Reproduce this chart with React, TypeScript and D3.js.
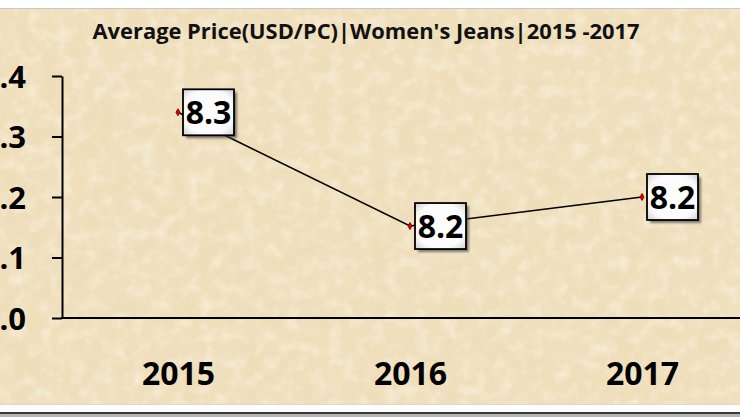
import React, { useEffect, useRef } from "react";
import * as d3 from "d3";

const categories = ["2015", "2016", "2017"];
const values = [8.34, 8.152, 8.2];
const yTicks = [8.0, 8.1, 8.2, 8.3, 8.4];
const title = "Average Price(USD/PC)|Women's Jeans|2015 -2017";

const W = 740;
const H = 417;
const FONT = "'Open Sans', 'Noto Sans', sans-serif";

export default function App() {
  const ref = useRef<SVGSVGElement | null>(null);

  useEffect(() => {
    document.body.style.margin = "0";
    const svg = d3.select(ref.current);
    svg.selectAll("*").remove();

    const defs = svg.append("defs");
    const paper = defs
      .append("filter")
      .attr("id", "paper")
      .attr("x", 0)
      .attr("y", 0)
      .attr("width", "100%")
      .attr("height", "100%");
    paper
      .append("feTurbulence")
      .attr("type", "fractalNoise")
      .attr("baseFrequency", "0.025 0.04")
      .attr("numOctaves", 4)
      .attr("seed", 7)
      .attr("result", "noise");
    paper
      .append("feColorMatrix")
      .attr("in", "noise")
      .attr("type", "matrix")
      .attr("values", "0 0 0 0 0.87  0 0 0 0 0.76  0 0 0 0 0.55  0 0 0 1.2 -0.48");

    const paper2 = defs
      .append("filter")
      .attr("id", "paper2")
      .attr("x", 0)
      .attr("y", 0)
      .attr("width", "100%")
      .attr("height", "100%");
    paper2
      .append("feTurbulence")
      .attr("type", "fractalNoise")
      .attr("baseFrequency", "0.07")
      .attr("numOctaves", 3)
      .attr("seed", 2)
      .attr("result", "noise");
    paper2
      .append("feColorMatrix")
      .attr("in", "noise")
      .attr("type", "matrix")
      .attr("values", "0 0 0 0 1  0 0 0 0 0.97  0 0 0 0 0.9  0 0 0 1.0 -0.45");

    const grad = defs
      .append("radialGradient")
      .attr("id", "boxfill")
      .attr("cx", "50%")
      .attr("cy", "50%")
      .attr("r", "70%");
    grad.append("stop").attr("offset", "0%").attr("stop-color", "#ffffff");
    grad.append("stop").attr("offset", "70%").attr("stop-color", "#fbfbfb");
    grad.append("stop").attr("offset", "100%").attr("stop-color", "#cfcfcf");

    const blur = defs.append("filter").attr("id", "shadow").attr("x", "-20%").attr("y", "-20%").attr("width", "150%").attr("height", "150%");
    blur.append("feGaussianBlur").attr("stdDeviation", 1.2);

    // frame
    svg.append("rect").attr("x", 0).attr("y", 0).attr("width", W).attr("height", H).attr("fill", "#ffffff");
    svg.append("rect").attr("x", 0).attr("y", 8).attr("width", W).attr("height", 1.5).attr("fill", "#c8c8c8");
    svg.append("rect").attr("x", 0).attr("y", 9).attr("width", W).attr("height", 395).attr("fill", "#efdeba");
    svg.append("rect").attr("x", 0).attr("y", 9).attr("width", W).attr("height", 395).attr("filter", "url(#paper)");
    svg.append("rect").attr("x", 0).attr("y", 9).attr("width", W).attr("height", 395).attr("filter", "url(#paper2)");
    svg.append("rect").attr("x", 0).attr("y", 404).attr("width", W).attr("height", 1).attr("fill", "#d8d8d8");
    svg.append("rect").attr("x", 0).attr("y", 412).attr("width", W).attr("height", 2).attr("fill", "#3a3a3a");
    svg.append("rect").attr("x", 0).attr("y", 414).attr("width", W).attr("height", 3).attr("fill", "#b5b5b5");

    const x = d3.scalePoint<string>().domain(categories).range([62, 758]).padding(0.5);
    const y = d3.scaleLinear().domain([8.0, 8.4]).range([318, 76]);

    // title
    svg
      .append("text")
      .attr("x", 366)
      .attr("y", 39)
      .attr("text-anchor", "middle")
      .attr("font-family", FONT)
      .attr("font-weight", 700)
      .attr("font-size", 21)
      .attr("textLength", 547)
      .attr("lengthAdjust", "spacingAndGlyphs")
      .attr("fill", "#111")
      .text(title);

    // y axis
    const yAxis = d3
      .axisLeft(y)
      .tickValues(yTicks)
      .tickFormat(d3.format(".1f") as any)
      .tickSize(10)
      .tickSizeOuter(0)
      .tickPadding(26);
    const yg = svg.append("g").attr("transform", "translate(62,0)").call(yAxis);
    yg.select(".domain").attr("stroke", "#000").attr("stroke-width", 2);
    yg.selectAll(".tick line").attr("stroke", "#000").attr("stroke-width", 2);
    yg.selectAll(".tick text")
      .attr("font-family", FONT)
      .attr("font-weight", 700)
      .attr("font-size", 31)
      .attr("fill", "#000")
      .attr("dy", "0.36em");

    // x axis
    const xAxis = d3.axisBottom(x).tickSize(0).tickSizeOuter(0).tickPadding(44);
    const xg = svg.append("g").attr("transform", "translate(0,318)").call(xAxis);
    xg.select(".domain").remove();
    xg.selectAll(".tick text")
      .attr("font-family", FONT)
      .attr("font-weight", 700)
      .attr("font-size", 32)
      .attr("fill", "#000")
      .attr("dy", "0.71em");
    svg
      .append("line")
      .attr("x1", 61)
      .attr("x2", W)
      .attr("y1", y(8.0))
      .attr("y2", y(8.0))
      .attr("stroke", "#000")
      .attr("stroke-width", 2);

    const data = categories.map((c, i) => ({ c, v: values[i] }));

    // line
    const line = d3
      .line<{ c: string; v: number }>()
      .x((d) => x(d.c) as number)
      .y((d) => y(d.v));
    svg.append("path").datum(data).attr("d", line).attr("fill", "none").attr("stroke", "#000").attr("stroke-width", 1.6);

    // markers
    const sym = d3.symbol().type(d3.symbolDiamond).size(14);
    svg
      .selectAll(".mk")
      .data(data)
      .join("path")
      .attr("d", sym as any)
      .attr("transform", (d) => `translate(${x(d.c)},${y(d.v)})`)
      .attr("fill", "#e00000")
      .attr("stroke", "#900");

    // labels
    const fmt = d3.format(".1f");
    const bw = 51;
    const bh = 46;
    const lg = svg
      .selectAll(".lbl")
      .data(data)
      .join("g")
      .attr("transform", (d) => `translate(${(x(d.c) as number) + 5},${y(d.v) - bh / 2})`);
    lg.append("rect")
      .attr("x", 3)
      .attr("y", 3)
      .attr("width", bw)
      .attr("height", bh)
      .attr("fill", "#444")
      .attr("opacity", 0.65)
      .attr("filter", "url(#shadow)");
    lg.append("rect")
      .attr("width", bw)
      .attr("height", bh)
      .attr("fill", "url(#boxfill)")
      .attr("stroke", "#000")
      .attr("stroke-width", 1.8);
    lg.append("text")
      .attr("x", bw / 2)
      .attr("y", bh / 2)
      .attr("dy", "0.36em")
      .attr("text-anchor", "middle")
      .attr("font-family", FONT)
      .attr("font-weight", 700)
      .attr("font-size", 32)
      .attr("fill", "#000")
      .text((d) => fmt(d.v));
  }, []);

  return (
    <svg
      ref={ref}
      width={W}
      height={H}
      viewBox={`0 0 ${W} ${H}`}
      style={{ position: "fixed", left: 0, top: 0, display: "block" }}
    />
  );
}
